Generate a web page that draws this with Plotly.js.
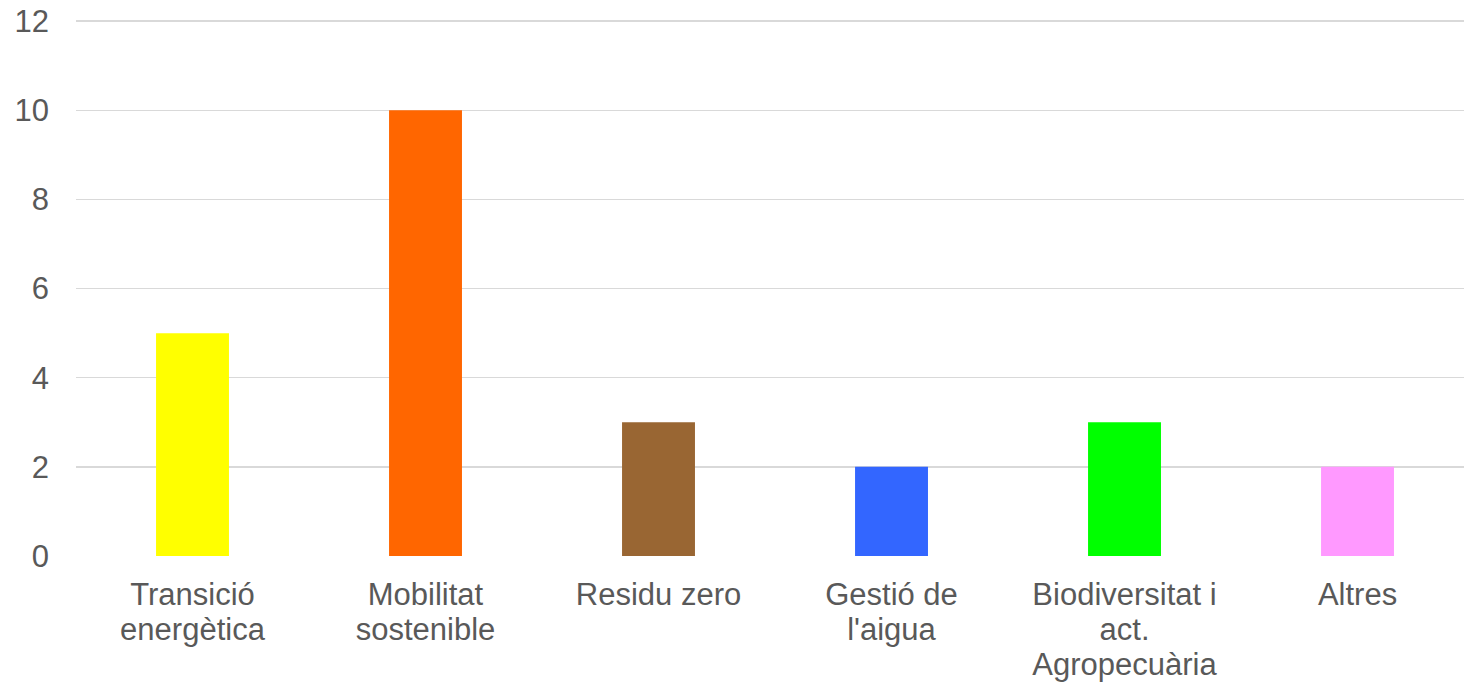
<!DOCTYPE html>
<html>
<head>
<meta charset="utf-8">
<script src="https://cdn.plot.ly/plotly-3.0.1.min.js"></script>
<style>html,body{margin:0;padding:0;background:#fff;overflow:hidden}</style>
</head>
<body>
<div id="chart" style="width:1464px;height:684px"></div>
<script>
const categories = ["Transició<br>energètica", "Mobilitat<br>sostenible", "Residu zero", "Gestió de<br>l'aigua", "Biodiversitat i<br>act.<br>Agropecuària", "Altres"];
const values = [5, 10, 3, 2, 3, 2];
const colors = ["#FFFF00", "#FF6600", "#996633", "#3366FF", "#00FF00", "#FF99FF"];
const yTicks = [0, 2, 4, 6, 8, 10, 12];

Plotly.newPlot("chart", [{
  type: "bar",
  x: categories,
  y: values,
  marker: {color: colors},
  hoverinfo: "none"
}], {
  width: 1464, height: 684,
  margin: {l: 76, r: 0, t: 20, b: 128},
  paper_bgcolor: "#fff", plot_bgcolor: "#fff",
  bargap: 0.687,
  showlegend: false,
  font: {family: "Liberation Sans", color: "#595959", size: 31},
  xaxis: {
    range: [-0.5, 5.457],
    showgrid: false, zeroline: false, showline: false,
    ticks: "", ticklabelstandoff: 17,
    tickfont: {family: "Liberation Sans", size: 31, color: "#595959"}
  },
  yaxis: {
    range: [0, 12.025],
    tickvals: yTicks,
    showgrid: true, gridcolor: "#d9d9d9", gridwidth: 1.5,
    zeroline: false, showline: false,
    ticks: "", ticklabelstandoff: 26,
    tickfont: {family: "Liberation Sans", size: 31, color: "#595959"}
  }
}, {staticPlot: true}).then(function () {
  document.querySelectorAll("#chart .xtick text").forEach(function (txt) {
    txt.querySelectorAll("tspan.line").forEach(function (t, i) {
      t.setAttribute("dy", (i * 35) + "px");
    });
  });
});
</script>
</body>
</html>
